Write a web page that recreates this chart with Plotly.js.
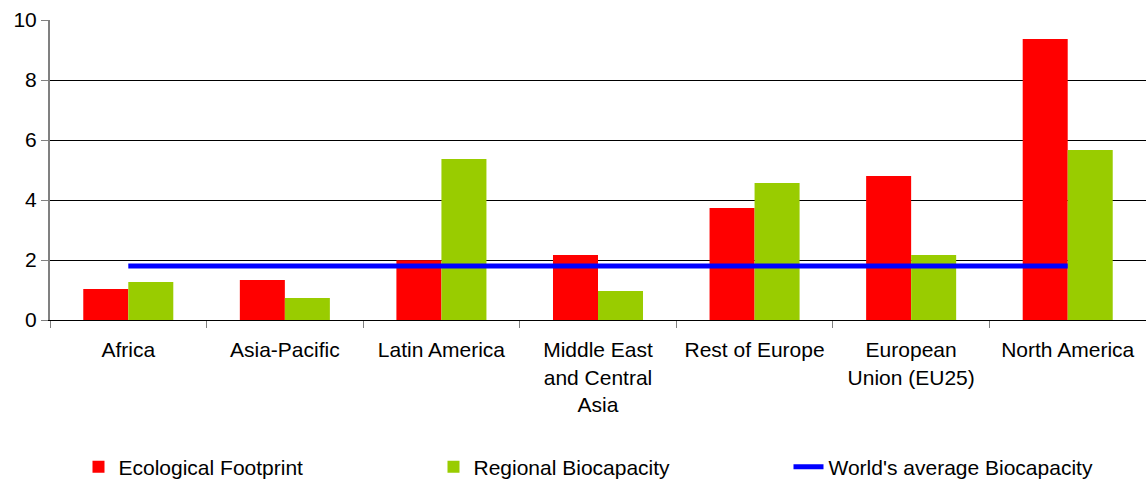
<!DOCTYPE html>
<html>
<head>
<meta charset="utf-8">
<script src="https://cdn.plot.ly/plotly-3.0.1.min.js"></script>
<style>html,body{margin:0;padding:0;background:#fff;}#chart{width:1146px;height:480px;}</style>
</head>
<body>
<div id="chart"></div>
<script>
const categories = ["Africa", "Asia-Pacific", "Latin America", "Middle East<br>and Central<br>Asia", "Rest of Europe", "European<br>Union (EU25)", "North America"];
const ecologicalFootprint = [1.03, 1.33, 1.99, 2.17, 3.73, 4.8, 9.37];
const regionalBiocapacity = [1.27, 0.73, 5.37, 0.97, 4.57, 2.17, 5.67];
const worldAverage = [1.8, 1.8, 1.8, 1.8, 1.8, 1.8, 1.8];
const yTicks = [0, 2, 4, 6, 8, 10];

const font = {family: "Liberation Sans, Arial, sans-serif", size: 21, color: "#000"};

const traces = [
  {type: "bar", name: "Ecological Footprint", x: categories, y: ecologicalFootprint, marker: {color: "#FF0000"}},
  {type: "bar", name: "Regional Biocapacity", x: categories, y: regionalBiocapacity, marker: {color: "#99CC00"}},
  {type: "scatter", mode: "lines", name: "World's average Biocapacity", x: categories, y: worldAverage, line: {color: "#0000FF", width: 5}}
];

const layout = {
  width: 1146, height: 480,
  margin: {l: 50, r: 0, t: 20, b: 160, autoexpand: false},
  paper_bgcolor: "#fff", plot_bgcolor: "#fff",
  font: font,
  barmode: "group",
  bargap: 0.425,
  bargroupgap: 0,
  showlegend: true,
  legend: {orientation: "h", x: 0.026, xanchor: "left", y: -0.49, yanchor: "middle", font: font, entrywidth: 310, traceorder: "normal"},
  xaxis: {
    type: "category",
    showline: true, linecolor: "#000", linewidth: 1,
    ticks: "outside", ticklen: 7, tickcolor: "#808080", tickson: "boundaries",
    ticklabelstandoff: 11,
    showgrid: false, tickfont: font, automargin: false
  },
  yaxis: {
    range: [0, 10], tickvals: yTicks, ticktext: yTicks.map(String),
    showline: true, linecolor: "#808080", linewidth: 2,
    ticks: "outside", ticklen: 7, tickcolor: "#808080",
    showgrid: true, gridcolor: "#000", gridwidth: 1,
    zeroline: false, tickfont: font, automargin: false
  }
};

Plotly.newPlot("chart", traces, layout, {displayModeBar: false, staticPlot: true});
</script>
</body>
</html>
